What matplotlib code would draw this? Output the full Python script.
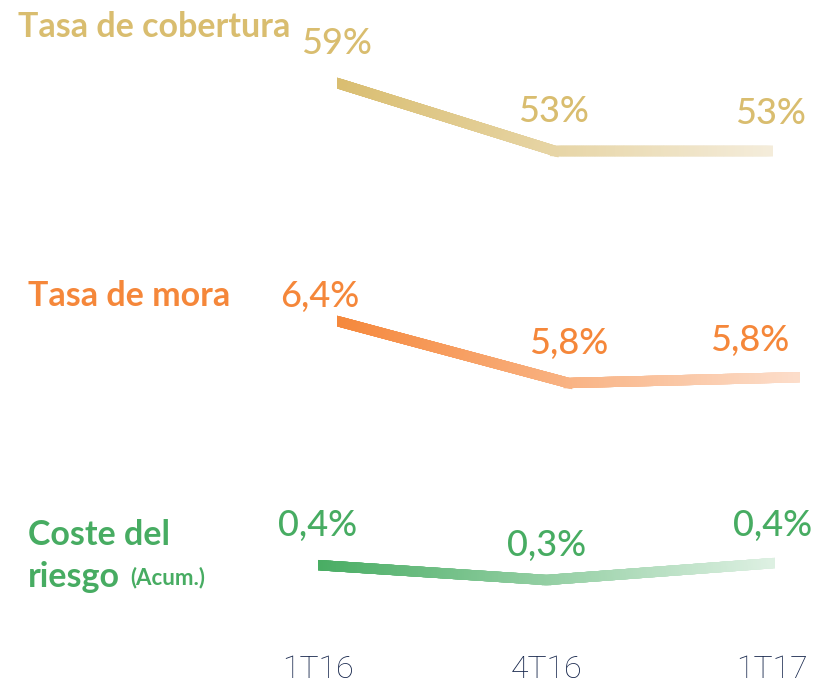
import numpy as np
import matplotlib
matplotlib.use("Agg")
import matplotlib.pyplot as plt
from matplotlib.collections import LineCollection
from matplotlib.colors import to_rgb
from matplotlib.patches import Rectangle

plt.rcParams['font.family'] = ['Lato', 'DejaVu Sans']

categories = ["1T16", "4T16", "1T17"]
cobertura = [59, 53, 53]
mora = [6.4, 5.76, 5.82]
coste = [0.40, 0.33, 0.41]

cob_labels = ["59%", "53%", "53%"]
mora_labels = ["6,4%", "5,8%", "5,8%"]
coste_labels = ["0,4%", "0,3%", "0,4%"]

W, H = 821, 687
fig = plt.figure(figsize=(W / 100, H / 100), dpi=100)


def px_axes(x0, y0, x1, y1):
    # axes box given in pixels from the top-left corner
    ax = fig.add_axes([x0 / W, 1 - y1 / H, (x1 - x0) / W, (y1 - y0) / H])
    ax.axis("off")
    return ax


def grad_line(ax, vals, c0, c1, lw=7.4, n=120):
    x = np.arange(len(vals))
    xs, ys = [], []
    for i in range(len(vals) - 1):
        t = np.linspace(0, 1, n, endpoint=False)
        xs.append(x[i] + t)
        ys.append(vals[i] + t * (vals[i + 1] - vals[i]))
    xs.append([x[-1]])
    ys.append([vals[-1]])
    xs = np.concatenate(xs)
    ys = np.concatenate(ys)
    pts = np.column_stack([xs, ys]).reshape(-1, 1, 2)
    segs = np.concatenate([pts[:-1], pts[1:]], axis=1)
    f = (xs[:-1] + xs[1:]) / 2 / x[-1]
    a, b = np.array(to_rgb(c0)), np.array(to_rgb(c1))
    cols = a + (b - a) * f[:, None]
    lc = LineCollection(segs, colors=cols, linewidths=lw, capstyle="projecting")
    ax.add_collection(lc)
    clip = Rectangle((0, -2), 1, 5, transform=ax.transAxes, visible=False)
    ax.add_patch(clip)
    lc.set_clip_path(clip)
    ax.set_xlim(0, len(vals) - 1)


def labels(ax, vals, texts, color, offsets):
    for i, (v, t) in enumerate(zip(vals, texts)):
        dx, dy = offsets[i]
        ax.annotate(t, (i, v), xytext=(dx * 0.72, dy * 0.72), textcoords="offset points",
                    ha="center", va="center", fontsize=26, color=color,
                    fontweight=500, annotation_clip=False)


gold = "#D9BD6F"
orange = "#F5873A"
green = "#47AC62"
navy = "#14244A"

# Tasa de cobertura
ax1 = px_axes(337, 83, 773, 151)
ax1.set_ylim(min(cobertura), max(cobertura))
grad_line(ax1, cobertura, gold, "#F4ECDA")
labels(ax1, cobertura, cob_labels, gold, [(-1, 39), (-2, 39), (-3, 38)])

# Tasa de mora
ax2 = px_axes(337, 321, 800, 383)
ax2.set_ylim(min(mora), max(mora))
grad_line(ax2, mora, orange, "#FCDDCA")
labels(ax2, mora, mora_labels, orange, [(-17, 25), (0, 40), (-50, 37)])

# Coste del riesgo
ax3 = px_axes(318, 563, 775, 580)
ax3.set_ylim(0.33, 0.41)
grad_line(ax3, coste, green, "#DDF0E2")
labels(ax3, coste, coste_labels, green, [(0, 40), (0, 35), (-2, 38)])

for i, c in enumerate(categories):
    ax3.annotate(c, (i, 0), xycoords=("data", "axes fraction"), xytext=(-3 * (i == 2) * 0.72, -90 * 0.72),
                 textcoords="offset points", ha="center", va="center", fontsize=23,
                 color=navy, family=["Roboto", "DejaVu Sans"], fontweight="light",
                 annotation_clip=False)

title_kw = dict(fontsize=24.5, fontweight="bold", va="center", ha="left")
fig.text(18 / W, 1 - 27 / H, "Tasa de cobertura", color=gold, **title_kw)
fig.text(28 / W, 1 - 296 / H, "Tasa de mora", color=orange, **title_kw)
fig.text(28 / W, 1 - 535 / H, "Coste del", color=green, **title_kw)
fig.text(28 / W, 1 - 577 / H, "riesgo", color=green, **title_kw)
fig.text(130 / W, 1 - 578 / H, "(Acum.)", color=green, fontsize=16,
         fontweight="bold", va="center", ha="left")

fig.savefig("out.png", dpi=100, facecolor="white")
